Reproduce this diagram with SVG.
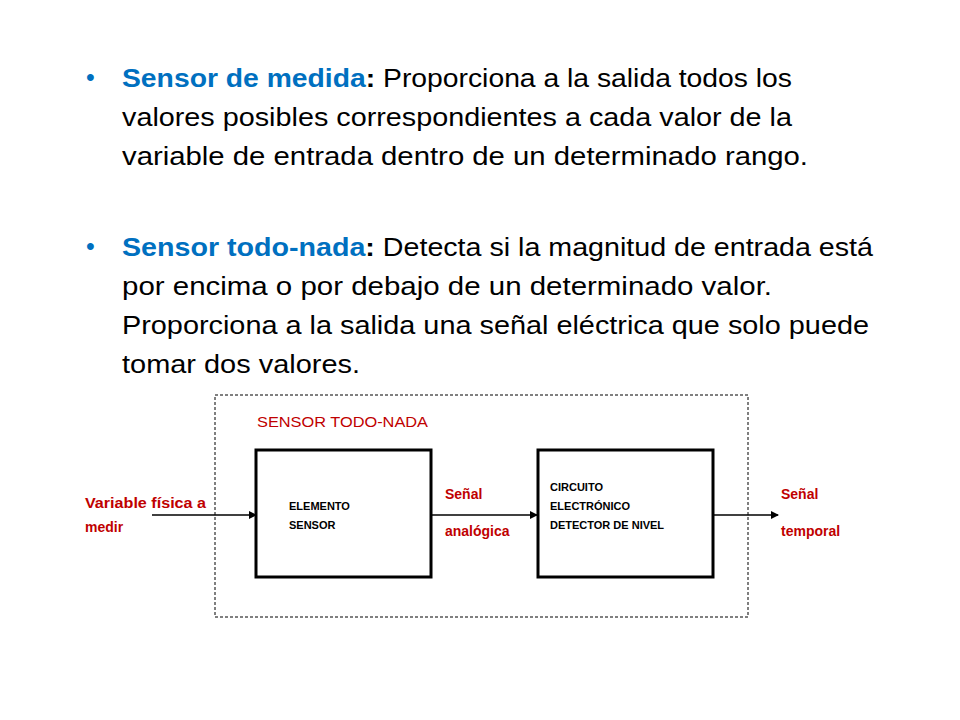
<svg xmlns="http://www.w3.org/2000/svg" width="960" height="720" viewBox="0 0 960 720">
<style>
.m{font-family:"Liberation Sans",Arial,sans-serif;font-size:25px;fill:#000}
.b{fill:#0070c0;font-weight:bold}
.bu{fill:#0070c0}
.r{font-family:"Liberation Sans",Arial,sans-serif;font-size:14px;font-weight:bold;fill:#c00000}
.t{font-family:"Liberation Sans",Arial,sans-serif;font-size:14px;fill:#c00000}
.s{font-family:"Liberation Sans",Arial,sans-serif;font-size:11px;font-weight:bold;fill:#000}
.box{fill:#fff;stroke:#000;stroke-width:3}
</style>
<defs><marker id="a" markerWidth="8" markerHeight="8" refX="7" refY="4" orient="auto" markerUnits="userSpaceOnUse"><path d="M0,0L8,4L0,8z" fill="#000"/></marker></defs>
<rect width="960" height="720" fill="#fff"/>
<g id="text">
<text class="m bu" x="86" y="86">•</text>
<text class="m" x="122" y="87" textLength="670" lengthAdjust="spacingAndGlyphs"><tspan class="b">Sensor de medida</tspan><tspan font-weight="bold">:</tspan> Proporciona a la salida todos los</text>
<text class="m" x="122" y="126" textLength="670" lengthAdjust="spacingAndGlyphs">valores posibles correspondientes a cada valor de la</text>
<text class="m" x="122" y="165" textLength="686" lengthAdjust="spacingAndGlyphs">variable de entrada dentro de un determinado rango.</text>
<text class="m bu" x="86" y="255">•</text>
<text class="m" x="122" y="256" textLength="751" lengthAdjust="spacingAndGlyphs"><tspan class="b">Sensor todo-nada</tspan><tspan font-weight="bold">:</tspan> Detecta si la magnitud de entrada está</text>
<text class="m" x="122" y="295" textLength="650" lengthAdjust="spacingAndGlyphs">por encima o por debajo de un determinado valor.</text>
<text class="m" x="122" y="334" textLength="747" lengthAdjust="spacingAndGlyphs">Proporciona a la salida una señal eléctrica que solo puede</text>
<text class="m" x="122" y="373" textLength="238" lengthAdjust="spacingAndGlyphs">tomar dos valores.</text>
</g>
<g id="container"><rect x="215" y="395" width="533" height="222" fill="none" stroke="#000" stroke-dasharray="3,2"/>
<text class="t" x="257" y="427" textLength="171" lengthAdjust="spacingAndGlyphs">SENSOR  TODO-NADA</text></g>
<g id="connectors" stroke="#000" stroke-width="1.3">
<line x1="152" y1="515" x2="256" y2="515" marker-end="url(#a)"/>
<line x1="432" y1="515" x2="537" y2="515" marker-end="url(#a)"/>
<line x1="714" y1="515" x2="778" y2="515" marker-end="url(#a)"/>
</g>
<g id="elemento"><rect class="box" x="256" y="450" width="175" height="127"/>
<text class="s" x="289" y="510">ELEMENTO</text><text class="s" x="289" y="529">SENSOR</text></g>
<g id="circuito"><rect class="box" x="538" y="450" width="175" height="127"/>
<text class="s" x="550" y="491">CIRCUITO</text><text class="s" x="550" y="510">ELECTRÓNICO</text><text class="s" x="550" y="529">DETECTOR DE NIVEL</text></g>
<g id="labels">
<text class="r" x="85" y="508" textLength="121" lengthAdjust="spacingAndGlyphs">Variable física a</text><text class="r" x="85" y="532">medir</text>
<text class="r" x="445" y="499">Señal</text><text class="r" x="445" y="536">analógica</text>
<text class="r" x="781" y="499">Señal</text><text class="r" x="781" y="536">temporal</text>
</g>
</svg>
